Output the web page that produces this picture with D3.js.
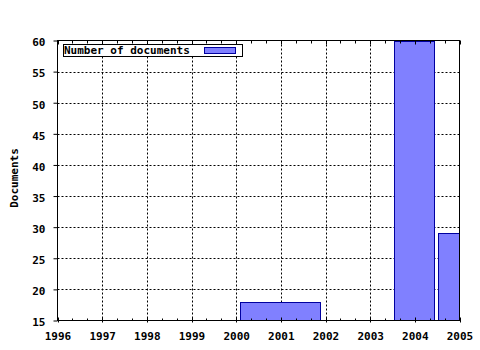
<!DOCTYPE html>
<html><head><meta charset="utf-8">
<script src="https://cdn.jsdelivr.net/npm/d3@7"></script>
<style>body{margin:0;background:#fff}svg{display:block}text{font-family:"DejaVu Sans Mono",monospace;font-weight:bold;font-size:11px;fill:#000}</style>
</head><body>
<script>
const years = [1996,1997,1998,1999,2000,2001,2002,2003,2004,2005];
const yTicks = [15,20,25,30,35,40,45,50,55,60];
const binStart = [2000, 2003.5, 2004.5];
const binEnd = [2002, 2004.5, 2005.5];
const docs = [18, 60, 29];
const seriesName = "Number of documents";
const yTitle = "Documents";

const W=480,H=350, L=57.5, R=459.5, T=40.5, B=320.5;
const svg=d3.select("body").append("svg").attr("width",W).attr("height",H);
const x=d3.scaleLinear().domain([1996,2005]).range([L,R]);
const y=d3.scaleLinear().domain([15,60]).range([B,T]);

svg.append("clipPath").attr("id","c").append("rect").attr("x",L).attr("y",T).attr("width",R-L).attr("height",B-T);

// grid
const g=svg.append("g").attr("stroke","#000").attr("stroke-dasharray","2,2").attr("stroke-width",1);
g.selectAll("line.v").data(years.slice(1,-1)).enter().append("line").attr("x1",d=>Math.round(x(d))+0.5).attr("x2",d=>Math.round(x(d))+0.5).attr("y1",T).attr("y2",B);
g.selectAll("line.h").data(yTicks.slice(1,-1)).enter().append("line").attr("y1",d=>Math.round(y(d))+0.5).attr("y2",d=>Math.round(y(d))+0.5).attr("x1",L).attr("x2",R);

// bars
const bars=docs.map((v,i)=>({s:binStart[i],e:binEnd[i],v}));
svg.append("g").attr("clip-path","url(#c)").selectAll("rect").data(bars).enter().append("rect")
 .attr("x",d=>Math.round(x(d.s+(d.e-d.s)*0.05))-0.5)
 .attr("width",d=>Math.round(x(d.e-(d.e-d.s)*0.05))-Math.round(x(d.s+(d.e-d.s)*0.05)))
 .attr("y",d=>Math.round(y(d.v))+0.5)
 .attr("height",d=>B+5-Math.round(y(d.v)))
 .attr("fill","#8080ff").attr("stroke","#0000a0").attr("stroke-width",1);

// frame
svg.append("rect").attr("x",L).attr("y",T).attr("width",R-L).attr("height",B-T).attr("fill","none").attr("stroke","#000");

// minor ticks
const minor=[];
for(let i=0;i<years.length-1;i++){minor.push(years[i]+1/3, years[i]+2/3);}
const tk=svg.append("g").attr("stroke","#000");
tk.selectAll("line.tm").data(years).enter().append("line").attr("x1",d=>Math.round(x(d))+0.5).attr("x2",d=>Math.round(x(d))+0.5).attr("y1",T).attr("y2",T+4);
tk.selectAll("line.tn").data(minor).enter().append("line").attr("x1",d=>Math.round(x(d))+0.5).attr("x2",d=>Math.round(x(d))+0.5).attr("y1",T).attr("y2",T+3);
tk.selectAll("line.bm").data(years).enter().append("line").attr("x1",d=>Math.round(x(d))+0.5).attr("x2",d=>Math.round(x(d))+0.5).attr("y1",B-3).attr("y2",B+2);
tk.selectAll("line.bn").data(minor).enter().append("line").attr("x1",d=>Math.round(x(d))+0.5).attr("x2",d=>Math.round(x(d))+0.5).attr("y1",B-2).attr("y2",B);

// axes labels
const xa=d3.axisBottom(x).tickValues(years).tickFormat(d3.format("d")).tickSize(0).tickPadding(12);
const gx=svg.append("g").attr("transform",`translate(0,${B})`).call(xa);
gx.select(".domain").remove();
gx.selectAll("text").attr("font-family",null).attr("font-size",null);
const ya=d3.axisLeft(y).tickValues(yTicks).tickSize(4).tickPadding(8);
const gy=svg.append("g").attr("transform",`translate(${L},0)`).call(ya);
gy.select(".domain").remove();
gy.selectAll("text").attr("font-family",null).attr("font-size",null).attr("dy","0.48em");

svg.append("text").attr("transform","translate(18,178) rotate(-90)").attr("text-anchor","middle").text(yTitle);

// legend
svg.append("rect").attr("x",63.5).attr("y",44.5).attr("width",179).attr("height",12).attr("fill","#fff").attr("stroke","#000");
svg.append("text").attr("x",64).attr("y",54).text(seriesName);
svg.append("rect").attr("x",204.5).attr("y",47.5).attr("width",31).attr("height",6).attr("fill","#8080ff").attr("stroke","#0000a0");
</script>
</body></html>
